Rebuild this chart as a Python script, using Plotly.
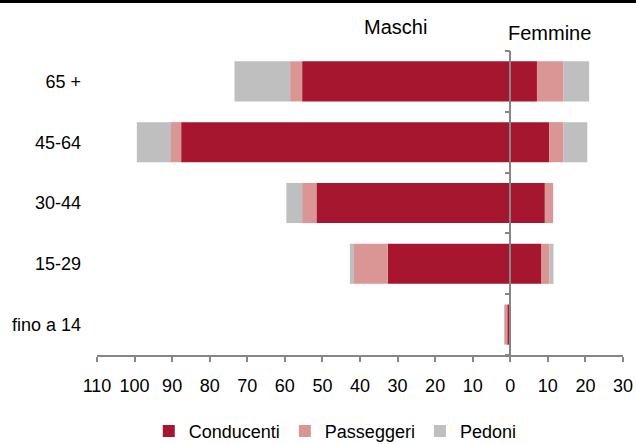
import plotly.graph_objects as go

# Data (bottom to top)
categories = ["fino a 14", "15-29", "30-44", "45-64", "65 +"]
maschi_conducenti = [0.8, 32.6, 51.6, 87.6, 55.4]
maschi_passeggeri = [0.8, 9.0, 3.8, 2.7, 3.2]
maschi_pedoni = [0.0, 1.1, 4.2, 9.1, 14.8]
femmine_conducenti = [0.0, 8.3, 9.2, 10.4, 7.1]
femmine_passeggeri = [0.0, 2.1, 2.2, 3.7, 7.0]
femmine_pedoni = [0.0, 1.1, 0.0, 6.4, 6.9]

series_names = ["Conducenti", "Passeggeri", "Pedoni"]
colors = ["#A6162F", "#D99694", "#BFBFBF"]
tick_values = list(range(-110, 31, 10))
tick_labels = [str(abs(v)) for v in tick_values]

FONT = "Liberation Sans, Arial, sans-serif"

fig = go.Figure()
male = [maschi_conducenti, maschi_passeggeri, maschi_pedoni]
female = [femmine_conducenti, femmine_passeggeri, femmine_pedoni]
for name, col, vals in zip(series_names, colors, male):
    fig.add_trace(go.Bar(
        y=categories, x=[-v for v in vals], orientation="h", name=name,
        marker=dict(color=col, line=dict(width=0)), legendgroup=name,
        customdata=vals, hovertemplate="Maschi %{y}: %{customdata}<extra>" + name + "</extra>",
    ))
for name, col, vals in zip(series_names, colors, female):
    fig.add_trace(go.Bar(
        y=categories, x=vals, orientation="h", name=name,
        marker=dict(color=col, line=dict(width=0)), legendgroup=name, showlegend=False,
        hovertemplate="Femmine %{y}: %{x}<extra>" + name + "</extra>",
    ))

# invisible trace to carry the category labels on the left axis
fig.add_trace(go.Scatter(
    y=categories, x=[0] * len(categories), yaxis="y2", mode="markers",
    marker=dict(opacity=0), showlegend=False, hoverinfo="skip",
))

xmin, xmax = -110, 30
zero_pos = (0 - xmin) / (xmax - xmin)

fig.update_layout(
    width=636, height=444,
    margin=dict(l=97, r=13, t=51, b=89, autoexpand=False),
    barmode="relative", bargap=0.34,
    plot_bgcolor="white", paper_bgcolor="white",
    font=dict(family=FONT, size=18, color="#000000"),
    xaxis=dict(
        range=[xmin, xmax], tickmode="array", tickvals=tick_values, ticktext=tick_labels,
        showgrid=False, zeroline=False, showline=True, linecolor="#868686", linewidth=1.5,
        ticks="outside", ticklen=5, tickcolor="#868686", tickwidth=1.5,
        tickfont=dict(family=FONT, size=18), ticklabelstandoff=9,
    ),
    yaxis=dict(
        type="category", categoryorder="array", categoryarray=categories,
        range=[-0.5, len(categories) - 0.5],
        anchor="free", position=zero_pos, side="left",
        showline=True, linecolor="#868686", linewidth=1.5,
        ticks="outside", ticklen=5, tickcolor="#868686", tickwidth=1.5,
        tickson="boundaries", showticklabels=False, showgrid=False, zeroline=False,
    ),
    yaxis2=dict(
        type="category", categoryorder="array", categoryarray=categories,
        range=[-0.5, len(categories) - 0.5], overlaying="y", anchor="x", side="left",
        showline=False, ticks="", showgrid=False, zeroline=False,
        tickfont=dict(family=FONT, size=18), ticklabelstandoff=15,
    ),
    legend=dict(
        orientation="h", x=0.453, xanchor="center", y=-0.19, yanchor="top",
        font=dict(family=FONT, size=18), itemwidth=30, traceorder="normal",
    ),
    showlegend=True,
)

fig.add_annotation(text="Maschi", xref="paper", yref="paper", x=0.567, y=1.079,
                   showarrow=False, font=dict(family=FONT, size=20), xanchor="center", yanchor="middle")
fig.add_annotation(text="Femmine", xref="paper", yref="paper", x=0.860, y=1.059,
                   showarrow=False, font=dict(family=FONT, size=20), xanchor="center", yanchor="middle")

# thick black rule at the top of the image
fig.add_shape(type="line", xref="paper", yref="paper", x0=-0.2, x1=1.1, y0=1.163, y1=1.163,
              line=dict(color="black", width=3))

fig.write_html("out.html", config={"displayModeBar": False},
               post_script="document.body.style.margin='0';document.body.style.overflow='hidden';")
